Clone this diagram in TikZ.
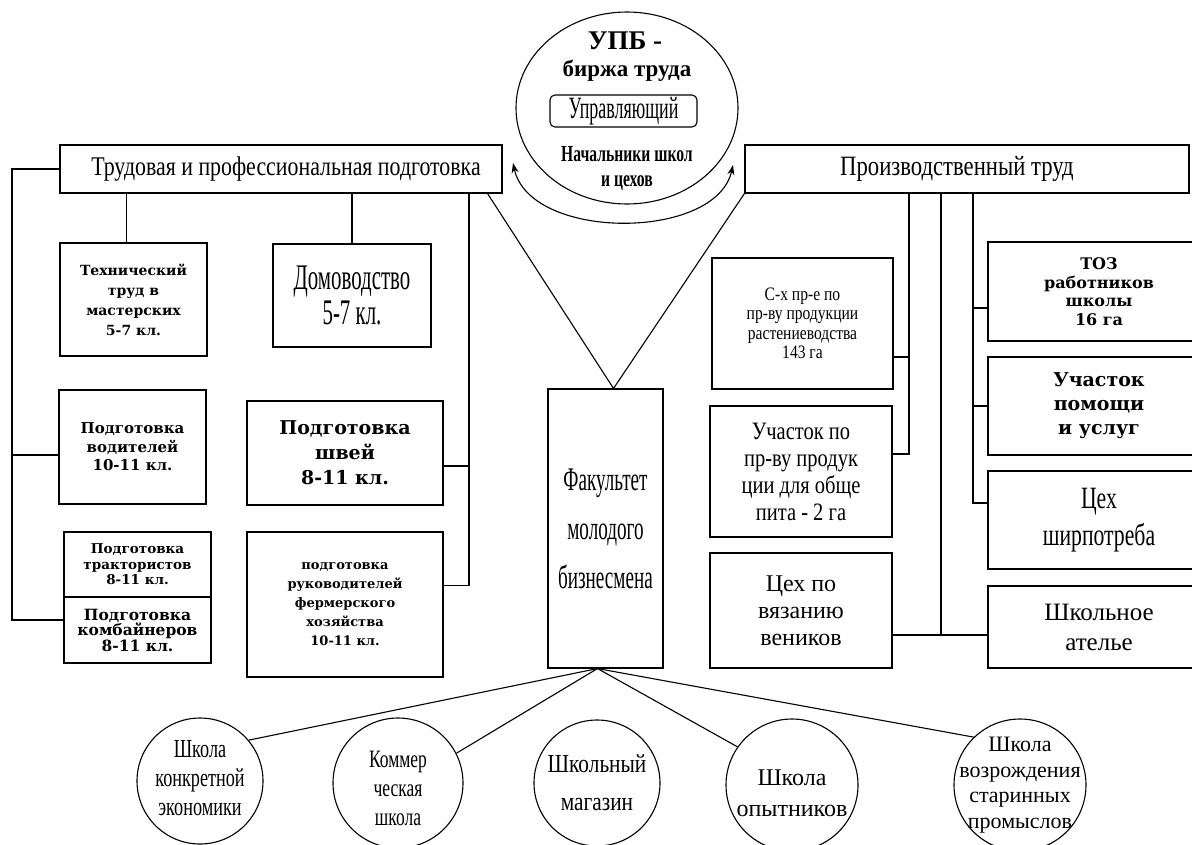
\documentclass[tikz,border=0pt]{standalone}
\usepackage{fontspec}
\setmainfont{Liberation Serif}
\newfontfamily\fTitle[FakeStretch=0.81]{Liberation Serif}
\newfontfamily\fNarrow[FakeStretch=0.58]{Liberation Serif}
\newfontfamily\fSemi[FakeStretch=0.7]{Liberation Serif}
\newfontfamily\fBoldC[FakeStretch=0.68]{Liberation Serif}
\newfontfamily\fMid[FakeStretch=0.82]{Liberation Serif}
\newfontfamily\fWide{DejaVu Serif}
\usetikzlibrary{shapes.geometric,arrows.meta}
\begin{document}
\begin{tikzpicture}[x=1pt,y=-1pt,line width=1.1pt,
  box/.style={draw,rectangle,inner sep=0pt,align=center},
  circ/.style={draw,circle,inner sep=0pt},
  txt/.style={inner sep=0pt,align=center},
  >={Stealth[length=10pt,width=7pt]}]
\useasboundingbox (0,0) rectangle (1192,844);
\clip (0,0) rectangle (1192,844);
\fill[white] (0,0) rectangle (1192,844);

% ---- top circle
\node[draw,ellipse,minimum width=222,minimum height=192,inner sep=0pt] (upb) at (627,108) {};
\node[txt,font=\bfseries\fontsize{27}{28}\selectfont] (upbt) at (625,41) {УПБ -};
\node[txt,font=\bfseries\fontsize{23}{25}\selectfont] (birzh) at (627,71) {биржа труда};
\node[draw,rounded corners=5pt,minimum width=147,minimum height=32,inner sep=0pt,
      font=\fNarrow\fontsize{31}{32}\selectfont] (mgr) at (623.5,111) {Управляющий};
\node[txt,font=\fBoldC\bfseries\fontsize{23}{25}\selectfont] (nach) at (627,168) {Начальники школ\\и цехов};
\coordinate (aL) at (513,163);
\coordinate (aR) at (733,165);
\draw[<->] (aL) .. controls (530,241) and (716,241) .. (aR);

% ---- titles
\node[box,minimum width=442,minimum height=48,font=\fTitle\fontsize{27}{30}\selectfont] (trud) at (281,169) {\hspace*{10pt}Трудовая и профессиональная подготовка};
\node[box,minimum width=444,minimum height=48,font=\fTitle\fontsize{28}{30}\selectfont] (proiz) at (967,169) {Производственный труд\hspace*{20pt}};

% ---- left boxes
\node[box,minimum width=147,minimum height=113,font=\fWide\bfseries\fontsize{14}{20}\selectfont] (tech) at (133.5,299.5) {Технический\\труд в\\мастерских\\5-7 кл.};
\node[box,minimum width=158,minimum height=103,font=\fNarrow\fontsize{36}{35}\selectfont] (dom) at (352,295.5) {Домоводство\\5-7 кл.};
\node[box,minimum width=147,minimum height=114,font=\fWide\bfseries\fontsize{15}{18.5}\selectfont] (vod) at (132.5,447) {Подготовка\\водителей\\10-11 кл.};
\node[box,minimum width=196,minimum height=104,font=\fWide\bfseries\fontsize{19}{25}\selectfont] (shv) at (345,453) {Подготовка\\швей\\8-11 кл.};
\node[box,minimum width=147,minimum height=65,font=\fWide\bfseries\fontsize{13.5}{15.5}\selectfont] (trk) at (137.5,564.5) {Подготовка\\трактористов\\8-11 кл.};
\node[box,minimum width=147,minimum height=66,font=\fWide\bfseries\fontsize{15.5}{15.5}\selectfont] (kmb) at (137.5,630) {Подготовка\\комбайнеров\\8-11 кл.};
\node[box,minimum width=196,minimum height=145,font=\fWide\bfseries\fontsize{13}{19}\selectfont] (frm) at (345,604.5) {подготовка\\руководителей\\фермерского\\хозяйства\\10-11 кл.};

% ---- centre
\node[box,minimum width=115,minimum height=279,font=\fNarrow\fontsize{33}{49}\selectfont] (fak) at (605.5,528.5) {Факультет\\молодого\\бизнесмена};

% ---- right boxes
\node[box,minimum width=181,minimum height=131,font=\fMid\fontsize{19}{19.5}\selectfont] (sx) at (802.5,323.5) {С-х пр-е по\\пр-ву продукции\\растениеводства\\143 га};
\node[box,minimum width=182,minimum height=131,font=\fMid\fontsize{25}{27}\selectfont] (uch) at (801,471.5) {Участок по\\пр-ву продук\\ции для обще\\пита - 2 га};
\node[box,minimum width=182,minimum height=115,font=\fontsize{24}{27}\selectfont] (ven) at (801,610.5) {Цех по\\вязанию\\веников};
\node[box,minimum width=222,minimum height=99,font=\fWide\bfseries\fontsize{16}{18.5}\selectfont] (toz) at (1099,291.5) {ТОЗ\\работников\\школы\\16 га};
\node[box,minimum width=222,minimum height=98,font=\fWide\bfseries\fontsize{19}{24}\selectfont] (pom) at (1099,406) {Участок\\помощи\\и услуг};
\node[box,minimum width=222,minimum height=98,font=\fSemi\fontsize{31}{37}\selectfont] (shp) at (1099,520) {Цех\\ширпотреба};
\node[box,minimum width=222,minimum height=82,font=\fontsize{25}{30}\selectfont] (atl) at (1099,627) {Школьное\\ателье};

% ---- bottom circles
\node[circ,minimum size=126] (c1) at (200,781) {};
\node[txt,font=\fSemi\fontsize{26}{29}\selectfont] (c1t) at ([yshift=3pt]c1.center) {Школа\\конкретной\\экономики};
\node[circ,minimum size=130] (c2) at (398,783) {};
\node[txt,font=\fSemi\fontsize{25}{29}\selectfont] (c2t) at ([yshift=-5pt]c2.center) {Коммер\\ческая\\школа};
\node[circ,minimum size=126] (c3) at (597,783) {};
\node[txt,font=\fMid\fontsize{26}{38}\selectfont] (c3t) at (c3) {Школьный\\магазин};
\node[circ,minimum size=132] (c4) at (792,785) {};
\node[txt,font=\fontsize{24}{31}\selectfont] (c4t) at ([yshift=-8pt]c4.center) {Школа\\опытников};
\node[circ,minimum size=132] (c5) at (1020,785) {};
\node[txt,font=\fontsize{22}{25.5}\selectfont] (c5t) at (c5) {Школа\\возрождения\\старинных\\промыслов};

% ---- left connectors
\coordinate (lx) at (12,0);
\coordinate (kmbL) at ([yshift=10pt]kmb.west);
\coordinate (vodL) at ([yshift=-8pt]vod.west);
\draw (trud.west) -| (lx |- kmbL) -- (kmbL);
\draw (vodL) -- (vodL -| lx);
\coordinate (techT) at ([xshift=-7pt]tech.north);
\draw (techT) -- (techT |- trud.south);
\draw (dom.north) -- (dom.north |- trud.south);
\coordinate (rx) at (469,0);
\coordinate (frmE) at ([yshift=19pt]frm.east);
\coordinate (shvE) at ([yshift=-13pt]shv.east);
\draw (rx |- trud.south) -- (rx |- frmE) -- (frmE);
\draw (shvE) -- (shvE -| rx);

% ---- centre connectors
\coordinate (fakT) at ([xshift=8pt]fak.north);
\coordinate (trudB) at ([xshift=-15pt]trud.south east);
\draw (trudB) -- (fakT) -- (proiz.south west);
\coordinate (fakB) at ([xshift=-8pt]fak.south);
\draw (fakB) -- (c1.40);
\draw (fakB) -- (c2.27);
\draw (fakB) -- (c4.145);
\draw (fakB) -- (c5.134);

% ---- right connectors
\coordinate (r1) at (909,0);
\coordinate (r2) at (941,0);
\coordinate (r3) at (973,0);
\coordinate (sxE) at ([yshift=-33.5pt]sx.east);
\coordinate (uchE) at ([yshift=17.5pt]uch.east);
\draw (r1 |- proiz.south) -- (r1 |- uchE) -- (uchE);
\draw (sxE) -- (sxE -| r1);
\coordinate (venE) at ([yshift=-24.5pt]ven.east);
\draw (r2 |- proiz.south) -- (r2 |- venE);
\draw (venE) -- (venE -| atl.west);
\coordinate (tozW) at ([yshift=-16.5pt]toz.west);
\coordinate (shpW) at ([yshift=17pt]shp.west);
\draw (r3 |- proiz.south) -- (r3 |- shpW) -- (shpW);
\draw (tozW) -- (tozW -| r3);
\draw (pom.west) -- (pom.west -| r3);
\end{tikzpicture}
\end{document}
